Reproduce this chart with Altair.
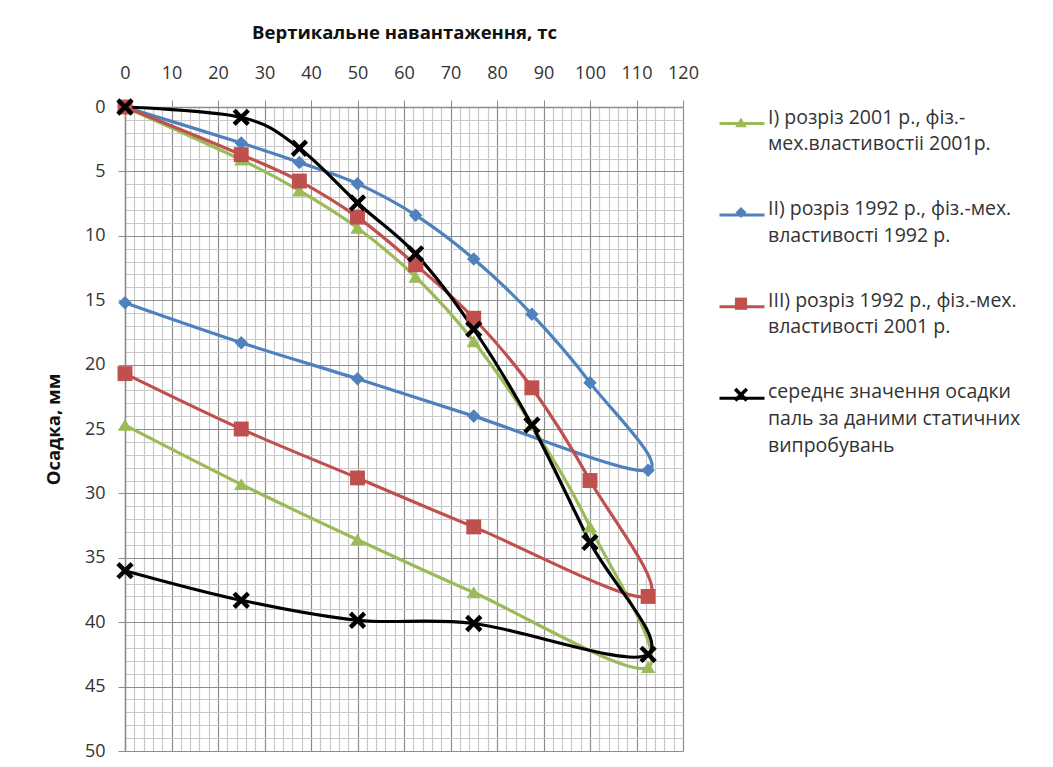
import altair as alt
import pandas as pd

# ---- data ----
loads = [0, 25, 37.5, 50, 62.5, 75, 87.5, 100, 112.5, 75, 50, 25, 0]
settle_I = [0, 4.1, 6.5, 9.4, 13.2, 18.2, 24.7, 32.6, 43.5, 37.7, 33.6, 29.3, 24.7]
settle_II = [0, 2.8, 4.3, 5.95, 8.4, 11.8, 16.1, 21.4, 28.2, 24.0, 21.1, 18.3, 15.2]
settle_III = [0, 3.7, 5.75, 8.55, 12.25, 16.4, 21.8, 29.0, 38.0, 32.6, 28.8, 25.0, 20.7]
settle_avg = [0, 0.8, 3.2, 7.45, 11.4, 17.25, 24.7, 33.8, 42.5, 40.1, 39.85, 38.3, 36.0]

series_names = [
    "I) розріз 2001 р., фіз.-|мех.властивостіі 2001р.",
    "II) розріз 1992 р., фіз.-мех.|властивості 1992 р.",
    "III) розріз 1992 р., фіз.-мех.|властивості 2001 р.",
    "середнє значення осадки|паль за даними статичних|випробувань",
]
series_colors = ["#9BBB59", "#4F81BD", "#C0504D", "#000000"]
marker_shapes = [
    "M0,-0.72L0.82,0.66L-0.82,0.66Z",
    "M0,-0.78L0.78,0L0,0.78L-0.78,0Z",
    "M-0.86,-0.86L0.86,-0.86L0.86,0.86L-0.86,0.86Z",
    "M-1,-0.64L-0.64,-1L0,-0.36L0.64,-1L1,-0.64L0.36,0L1,0.64L0.64,1L0,0.36L-0.64,1L-1,0.64L-0.36,0Z",
]

x_ticks = list(range(0, 121, 2))
y_ticks = list(range(0, 51, 1))

# marker series keys differ by a trailing space so that the two legends stay separate
marker_names = [n + " " for n in series_names]

rows = []
for name, mname, vals in zip(series_names, marker_names,
                             [settle_I, settle_II, settle_III, settle_avg]):
    for i, (xv, yv) in enumerate(zip(loads, vals)):
        rows.append({"series": name, "series_p": mname, "idx": i, "load": xv, "settle": yv})
df = pd.DataFrame(rows)

MAJOR = "#8c8c8c"
MINOR = "#c8c8c8"
FONT = "Open Sans"

mx = "datum.value % 10 === 0"
my = "datum.value % 5 === 0"

x_enc = alt.X(
    "load:Q",
    title="Вертикальне навантаження, тс",
    scale=alt.Scale(domain=[0, 120], nice=False, zero=False),
    axis=alt.Axis(
        orient="top", values=x_ticks, labelOverlap=False, labelFlush=False,
        labelExpr=f"{mx} ? datum.label : ''",
        grid=True,
        gridColor={"condition": {"test": mx, "value": MAJOR}, "value": MINOR},
        gridWidth=1.2,
        tickSize=7, tickColor=MAJOR,
        tickOpacity={"condition": {"test": mx, "value": 1}, "value": 0},
        domainColor=MAJOR, domainWidth=1.5,
        labelFont=FONT, labelFontSize=18, labelColor="#333333", labelPadding=18,
        titleFont=FONT, titleFontSize=18.5, titleFontWeight="bold", titleColor="#111111",
        titlePadding=22,
    ),
)
y_enc = alt.Y(
    "settle:Q",
    title="Осадка, мм",
    scale=alt.Scale(domain=[0, 50], reverse=True, nice=False, zero=False),
    axis=alt.Axis(
        orient="left", values=y_ticks, labelOverlap=False, labelFlush=False,
        labelExpr=f"{my} ? datum.label : ''",
        grid=True,
        gridColor={"condition": {"test": my, "value": MAJOR}, "value": MINOR},
        gridWidth=1.2,
        tickSize=7, tickColor=MAJOR,
        tickOpacity={"condition": {"test": my, "value": 1}, "value": 0},
        domainColor=MAJOR, domainWidth=1.5,
        labelFont=FONT, labelFontSize=18, labelColor="#333333", labelPadding=13,
        titleFont=FONT, titleFontSize=18.5, titleFontWeight="bold", titleColor="#111111",
        titlePadding=21,
    ),
)

LEG_X = 593
common = dict(orient="none", title=None, padding=0, offset=0)
line_legend = alt.Legend(
    legendX=LEG_X, legendY=-7.5, symbolSize=2025, symbolStrokeWidth=3,
    labelExpr="split(datum.label, '|')", labelFont=FONT, labelFontSize=19.5,
    labelLimit=600, labelBaseline="alphabetic", labelOffset=2, labelColor="#333333",
    rowPadding=36.6, **common,
)
pt_legend = alt.Legend(
    legendX=LEG_X + 15.5, legendY=8.0, symbolSize=200, symbolStrokeWidth=0,
    labelExpr="''", labelFontSize=1, labelOffset=0,
    rowPadding=77.1, **common,
)

base = alt.Chart(df)
lines = base.mark_line(interpolate="cardinal", strokeWidth=3.2).encode(
    x=x_enc, y=y_enc,
    color=alt.Color("series:N", scale=alt.Scale(domain=series_names, range=series_colors),
                    legend=line_legend),
    order=alt.Order("idx:Q"),
)
points = base.mark_point(filled=True, opacity=1, size=300, strokeWidth=0).encode(
    x=x_enc, y=y_enc,
    fill=alt.Fill("series_p:N", scale=alt.Scale(domain=marker_names, range=series_colors),
                  legend=pt_legend),
    shape=alt.Shape("series_p:N", scale=alt.Scale(domain=marker_names, range=marker_shapes),
                    legend=pt_legend),
)

chart = (
    alt.layer(lines, points)
    .properties(
        width=558, height=644,
        autosize=alt.AutoSizeParams(type="none"),
        padding={"left": 117, "top": 99, "right": 362, "bottom": 10},
        background="white",
    )
    .configure(font=FONT, style={"guide-label": {"lineHeight": 26.7}})
    .configure_view(strokeWidth=0)
)

chart.save("out.html", embed_options={"renderer": "svg", "actions": False})
